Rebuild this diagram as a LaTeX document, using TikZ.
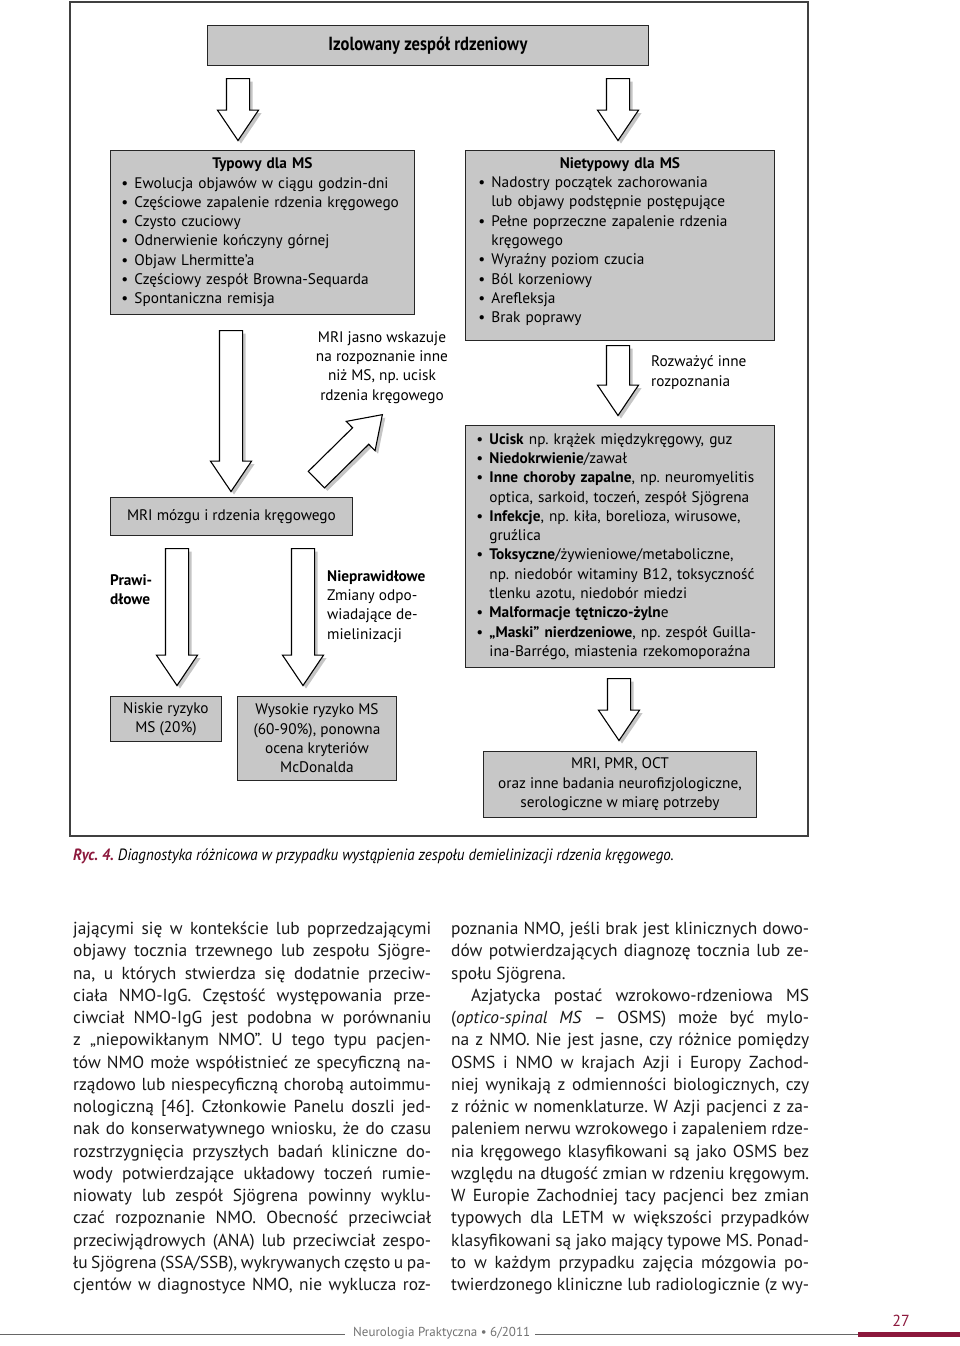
\documentclass[tikz,border=0pt]{standalone}
\usepackage{fontspec}
\setmainfont{PT Sans}
\newfontfamily\condfont[FakeStretch=0.87]{PT Sans}
\newfontfamily\capfont[FakeStretch=0.92]{PT Sans}
\usetikzlibrary{calc,shapes.arrows,shadows}
\definecolor{ryc}{RGB}{140,24,60}
\frenchspacing
\newcommand{\figtext}{\fontsize{15.3}{19.3}\selectfont}
\newcommand{\bul}{\makebox[13pt][l]{\textbullet}}
\newcommand{\cnt}{\hspace*{13pt}}
\newcommand{\jl}[1]{\makebox[358pt][s]{#1}}
\newcommand{\blockarrow}[2]{\path let \p1=(#1), \p2=(#2), \n1={veclen(\x2-\x1,\y2-\y1)}, \n2={atan2(\y2-\y1,\x2-\x1)} in node[bigarrow,anchor=tail,minimum height=\n1,rotate=\n2] at (\p1) {};}

\begin{document}
\begin{tikzpicture}[x=1pt,y=-1pt,
  box/.style={draw=black!85,fill=black!22,line width=0.9pt,inner sep=0pt,anchor=north west,font=\figtext},
  note/.style={inner sep=0pt,font=\figtext},
  bigarrow/.style={single arrow,draw=black,fill=white,line width=1.1pt,inner xsep=0pt,inner ysep=11pt,single arrow head extend=9pt,single arrow tip angle=68,drop shadow={shadow xshift=3pt,shadow yshift=-3pt,opacity=0.45}},
  bodytext/.style={anchor=north west,align=left,inner sep=0pt,text=black!90,font=\fontsize{17.4}{22.25}\selectfont}]
\useasboundingbox (0,0) rectangle (960,1346);
\fill[white] (0,0) rectangle (960,1346);

% frame of the figure
\draw[black!75,line width=1.4pt] (70,2) rectangle (808,836);

% boxes
\node[box,minimum width=441pt,minimum height=40pt,font=\condfont\bfseries\fontsize{19}{22}\selectfont] (zespol) at (207,25) {Izolowany zespół rdzeniowy};
\node[box,minimum width=304pt,minimum height=164pt,text width=282pt,align=left] (typ) at (110,150) {\hfill\textbf{Typowy dla MS}\hfill\null\\
  \bul Ewolucja objawów w ciągu godzin-dni\\
  \bul Częściowe zapalenie rdzenia kręgowego\\
  \bul Czysto czuciowy\\
  \bul Odnerwienie kończyny górnej\\
  \bul Objaw Lhermitte’a\\
  \bul Częściowy zespół Browna-Sequarda\\
  \bul Spontaniczna remisja};
\node[box,minimum width=309pt,minimum height=190pt,text width=283pt,align=left] (nietyp) at (465,150) {\hfill\textbf{Nietypowy dla MS}\hfill\null\\
  \bul Nadostry początek zachorowania\\
  \cnt lub objawy podstępnie postępujące\\
  \bul Pełne poprzeczne zapalenie rdzenia\\
  \cnt kręgowego\\
  \bul Wyraźny poziom czucia\\
  \bul Ból korzeniowy\\
  \bul Arefleksja\\
  \bul Brak poprawy\rule[-11pt]{0pt}{1pt}};
\node[box,minimum width=242pt,minimum height=38pt] (mri) at (110,497) {MRI mózgu i rdzenia kręgowego};
\node[box,minimum width=309pt,minimum height=242pt,text width=287pt,align=left] (lista) at (465,425) {\bul\textbf{Ucisk} np. krążek międzykręgowy, guz\\
  \bul\textbf{Niedokrwienie}/zawał\\
  \bul\textbf{Inne choroby zapalne}, np. neuromyelitis\\
  \cnt optica, sarkoid, toczeń, zespół Sjögrena\\
  \bul\textbf{Infekcje}, np. kiła, borelioza, wirusowe,\\
  \cnt gruźlica\\
  \bul\textbf{Toksyczne}/żywieniowe/metaboliczne,\\
  \cnt np. niedobór witaminy B12, toksyczność\\
  \cnt tlenku azotu, niedobór miedzi\\
  \bul\textbf{Malformacje tętniczo-żyln}e\\
  \bul\textbf{„Maski” nierdzeniowe}, np. zespół Guilla-\\
  \cnt ina-Barrégo, miastenia rzekomoporaźna};
\node[box,minimum width=111pt,minimum height=45pt,align=center] (niskie) at (110,696) {Niskie ryzyko\\MS (20\%)};
\node[box,minimum width=159pt,minimum height=84pt,align=center] (wysokie) at (237,696) {Wysokie ryzyko MS\\(60-90\%), ponowna\\ocena kryteriów\\McDonalda};
\node[box,minimum width=273pt,minimum height=66pt,align=center] (badania) at (483,751) {MRI, PMR, OCT\\oraz inne badania neurofizjologiczne,\\serologiczne w miarę potrzeby};

% labels beside the arrows
\node[note,align=center] (inne) at (382,367.5) {MRI jasno wskazuje\\na rozpoznanie inne\\niż MS, np. ucisk\\rdzenia kręgowego};
\node[note,align=left,anchor=west] (rozwaz) at (651,372.5) {Rozważyć inne\\rozpoznania};
\node[note,align=left,anchor=west,font=\figtext\bfseries] (prawid) at (110,589.5) {Prawi-\\dłowe};
\node[note,align=left,anchor=west] (nieprawid) at (327,606.5) {\textbf{Nieprawidłowe}\\Zmiany odpo-\\wiadające de-\\mielinizacji};

% arrow ends
\coordinate (zesp-l) at (238,78);   \coordinate (typ-in) at (238,140);
\coordinate (zesp-r) at (618,78);   \coordinate (nietyp-in) at (618,140);
\coordinate (typ-out) at (231,330); \coordinate (mri-in) at (231,491);
\coordinate (mri-ne) at (316,480);  \coordinate (inne-in) at (382,415);
\coordinate (mri-l) at (177,548);   \coordinate (niskie-in) at (177,685);
\coordinate (mri-r) at (303,548);   \coordinate (wysokie-in) at (303,685);
\coordinate (nietyp-out) at (618,345); \coordinate (lista-in) at (618,415);
\coordinate (lista-out) at (619,678);  \coordinate (badania-in) at (619,740);
\foreach \s/\t in {zesp-l/typ-in,zesp-r/nietyp-in,typ-out/mri-in,mri-ne/inne-in,mri-l/niskie-in,mri-r/wysokie-in,nietyp-out/lista-in,lista-out/badania-in}
  \blockarrow{\s}{\t};

% caption
\node[anchor=base west,inner sep=0pt,font=\capfont\itshape\fontsize{16.3}{18}\selectfont] (ryc) at (73,860) {\textcolor{ryc}{\textbf{Ryc. 4.}} Diagnostyka różnicowa w przypadku wystąpienia zespołu demielinizacji rdzenia kręgowego.};

% two columns of text
\node[bodytext] (kol1) at (73,922) {\jl{jającymi się w kontekście lub poprzedzającymi}\\
  \jl{objawy tocznia trzewnego lub zespołu Sjögre-}\\
  \jl{na, u których stwierdza się dodatnie przeciw-}\\
  \jl{ciała NMO-IgG. Częstość występowania prze-}\\
  \jl{ciwciał NMO-IgG jest podobna w porównaniu}\\
  \jl{z „niepowikłanym NMO”. U tego typu pacjen-}\\
  \jl{tów NMO może współistnieć ze specyficzną na-}\\
  \jl{rządowo lub niespecyficzną chorobą autoimmu-}\\
  \jl{nologiczną [46]. Członkowie Panelu doszli jed-}\\
  \jl{nak do konserwatywnego wniosku, że do czasu}\\
  \jl{rozstrzygnięcia przyszłych badań kliniczne do-}\\
  \jl{wody potwierdzające układowy toczeń rumie-}\\
  \jl{niowaty lub zespół Sjögrena powinny wyklu-}\\
  \jl{czać rozpoznanie NMO. Obecność przeciwciał}\\
  \jl{przeciwjądrowych (ANA) lub przeciwciał zespo-}\\
  \jl{łu Sjögrena (SSA/SSB), wykrywanych często u pa-}\\
  \jl{cjentów w diagnostyce NMO, nie wyklucza roz-}};
\node[bodytext] (kol2) at (451,922) {\jl{poznania NMO, jeśli brak jest klinicznych dowo-}\\
  \jl{dów potwierdzających diagnozę tocznia lub ze-}\\
  społu Sjögrena.\\
  \hspace*{20pt}\makebox[338pt][s]{Azjatycka postać wzrokowo-rdzeniowa MS}\\
  \jl{(\textit{optico-spinal MS} – OSMS) może być mylo-}\\
  \jl{na z NMO. Nie jest jasne, czy różnice pomiędzy}\\
  \jl{OSMS i NMO w krajach Azji i Europy Zachod-}\\
  \jl{niej wynikają z odmienności biologicznych, czy}\\
  \jl{z różnic w nomenklaturze. W Azji pacjenci z za-}\\
  \jl{paleniem nerwu wzrokowego i zapaleniem rdze-}\\
  \jl{nia kręgowego klasyfikowani są jako OSMS bez}\\
  \jl{względu na długość zmian w rdzeniu kręgowym.}\\
  \jl{W Europie Zachodniej tacy pacjenci bez zmian}\\
  \jl{typowych dla LETM w większości przypadków}\\
  \jl{klasyfikowani są jako mający typowe MS. Ponad-}\\
  \jl{to w każdym przypadku zajęcia mózgowia po-}\\
  \jl{twierdzonego kliniczne lub radiologicznie (z wy-}};

% footer
\draw[black!60,line width=0.6pt] (0,1334) -- (345,1334);
\node[anchor=west,inner sep=0pt,text=black!55,font=\fontsize{13}{15}\selectfont] (czasop) at (353,1333) {Neurologia Praktyczna • 6/2011};
\draw[black!60,line width=0.6pt] (535,1334) -- (858,1334);
\fill[ryc] (858,1332) rectangle (960,1336.5);
\node[inner sep=0pt,text=ryc,font=\fontsize{16}{18}\selectfont] (strona) at (901,1321) {27};
\end{tikzpicture}
\end{document}
